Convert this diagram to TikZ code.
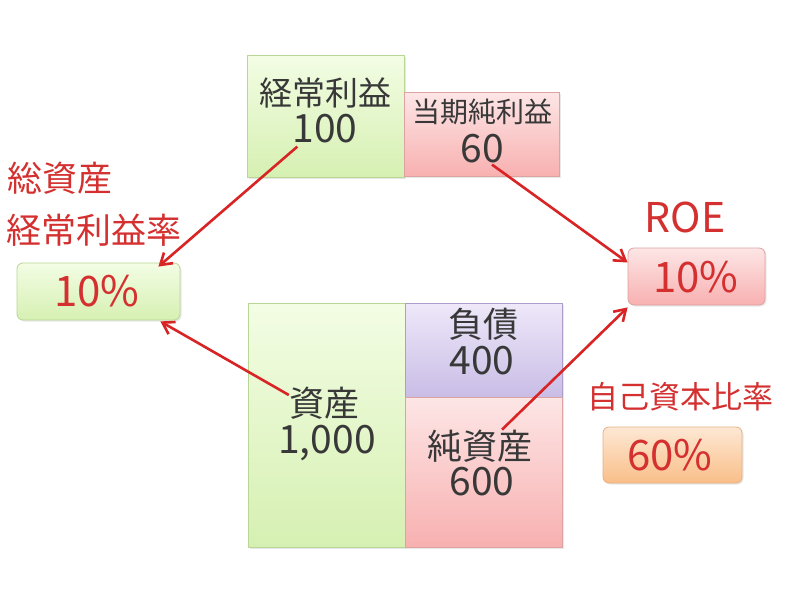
\documentclass[tikz,border=0pt]{standalone}
\usepackage{fontspec}
\setmainfont{Noto Sans CJK JP}
\usetikzlibrary{arrows.meta,shadows}
\definecolor{gtop}{HTML}{F3FDE4}
\definecolor{gbot}{HTML}{D6F0B2}
\definecolor{gline}{HTML}{B9D696}
\definecolor{ptop}{HTML}{FDE6E6}
\definecolor{pbot}{HTML}{F8B0B0}
\definecolor{pline}{HTML}{DDA2A2}
\definecolor{vtop}{HTML}{EEE8F9}
\definecolor{vbot}{HTML}{C9BDE6}
\definecolor{vline}{HTML}{AC9DCB}
\definecolor{otop}{HTML}{FDE8D4}
\definecolor{obot}{HTML}{F9BE88}
\definecolor{oline}{HTML}{E6B084}
\definecolor{redtxt}{HTML}{D43030}
\definecolor{redarr}{HTML}{D82424}
\definecolor{darktxt}{HTML}{383838}
\begin{document}
\begin{tikzpicture}[x=1pt,y=-1pt,
  boxbase/.style={rectangle,inner sep=0pt,line width=0.8pt,
    drop shadow={opacity=0.18,shadow xshift=1.5pt,shadow yshift=-1.5pt}},
  gbox/.style={boxbase,draw=gline,top color=gtop,bottom color=gbot},
  pbox/.style={boxbase,draw=pline,top color=ptop,bottom color=pbot},
  vbox/.style={boxbase,draw=vline,top color=vtop,bottom color=vbot},
  obox/.style={boxbase,draw=oline,top color=otop,bottom color=obot},
  rbox/.style={rounded corners=6pt},
  blk/.style={inner sep=0pt,text=darktxt},
  red/.style={inner sep=0pt,text=redtxt},
  arr/.style={draw=redarr,line width=2.6pt,-{Straight Barb[length=11pt,width=14pt,line width=2.6pt]}}
]
\useasboundingbox (0,0) rectangle (800,600);
\fill[white] (0,0) rectangle (800,600);

% boxes
\node[gbox,minimum width=157pt,minimum height=122pt] (keijoBox) at (326,116) {};
\node[pbox,minimum width=155pt,minimum height=84pt] (junBox) at (481.5,134) {};
\node[gbox,minimum width=157pt,minimum height=244pt] (shisanBox) at (326.5,425) {};
\node[vbox,minimum width=157pt,minimum height=94pt] (fusaiBox) at (483.5,350) {};
\node[pbox,minimum width=157pt,minimum height=150pt] (junshisanBox) at (483.5,472) {};
\node[gbox,rbox,minimum width=163pt,minimum height=57pt] (lbox) at (98.5,291.5) {};
\node[pbox,rbox,minimum width=137pt,minimum height=57pt] (roebox) at (696.5,276.5) {};
\node[obox,rbox,minimum width=139pt,minimum height=56pt] (jikobox) at (672.5,455) {};

% texts
\node[blk,font=\fontsize{33}{33}\selectfont] (t1) at (325,93) {経常利益};
\node[blk,font=\fontsize{39}{39}\selectfont] (t2) at (325,129) {100};
\node[blk,font=\fontsize{28}{28}\selectfont] (t3) at (482,112) {当期純利益};
\node[blk,font=\fontsize{39}{39}\selectfont] (t4) at (482,149) {60};
\node[red,anchor=west,font=\fontsize{35}{35}\selectfont] (t5) at (7,178) {総資産};
\node[red,anchor=west,font=\fontsize{35}{35}\selectfont] (t6) at (6,230) {経常利益率};
\node[red,font=\fontsize{42}{42}\selectfont] (t7) at (97,291) {10\%};
\node[red,font=\fontsize{41}{41}\selectfont] (t8) at (685,217) {ROE};
\node[red,font=\fontsize{42}{42}\selectfont] (t9) at (696,277) {10\%};
\node[red,font=\fontsize{31}{31}\selectfont] (t10) at (680,397) {自己資本比率};
\node[red,font=\fontsize{42}{42}\selectfont] (t11) at (670,455) {60\%};
\node[blk,font=\fontsize{35}{35}\selectfont] (t12) at (483,324) {負債};
\node[blk,font=\fontsize{39}{39}\selectfont] (t13) at (482,361) {400};
\node[blk,font=\fontsize{35}{35}\selectfont] (t14) at (324,403) {資産};
\node[blk,font=\fontsize{39}{39}\selectfont] (t15) at (327,443) {1,000};
\node[blk,font=\fontsize{35}{35}\selectfont] (t16) at (480,446) {純資産};
\node[blk,font=\fontsize{39}{39}\selectfont] (t17) at (482,482) {600};

% arrow end points
\coordinate (a1s) at ([xshift=5pt,yshift=-3pt]t2.south west);
\coordinate (a1e) at ([xshift=-22pt,yshift=-4pt]lbox.north east);
\coordinate (a2s) at ([yshift=8pt]t14.west);
\coordinate (a2e) at ([xshift=-20pt,yshift=-1pt]lbox.south east);
\coordinate (a3s) at ([xshift=10pt,yshift=-1pt]t4.south);
\coordinate (a3e) at ([yshift=14pt]roebox.west);
\coordinate (a4s) at ([xshift=22pt]t16.north);
\coordinate (a4e) at ([yshift=-2pt]roebox.south west);

\draw[arr] (a1s) -- (a1e);
\draw[arr] (a2s) -- (a2e);
\draw[arr] (a3s) -- (a3e);
\draw[arr] (a4s) -- (a4e);
\end{tikzpicture}
\end{document}
